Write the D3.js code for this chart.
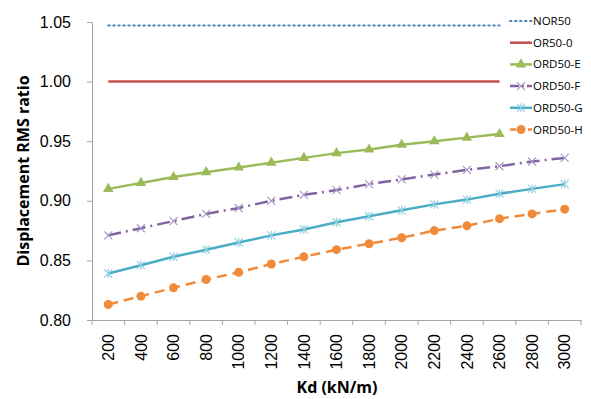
<!DOCTYPE html>
<html>
<head>
<meta charset="utf-8">
<script src="https://cdn.jsdelivr.net/npm/d3@7"></script>
<style>
	body { margin: 0; background: #fff; }
	svg { font-family: 'Open Sans', sans-serif; }
	.axis path, .axis line { stroke: #a6a6a6; }
</style>
</head>
<body>
<svg id="chart" width="591" height="399"></svg>
<script>
// Categories (Kd, kN/m)
var kd = [200, 400, 600, 800, 1000, 1200, 1400, 1600, 1800, 2000, 2200, 2400, 2600, 2800, 3000];

// Y tick labels
var yTicks = [0.80, 0.85, 0.90, 0.95, 1.00, 1.05];

// Series values
var nor50  = [1.047, 1.047, 1.047, 1.047, 1.047, 1.047, 1.047, 1.047, 1.047, 1.047, 1.047, 1.047, 1.047];
var or50   = [1.000, 1.000, 1.000, 1.000, 1.000, 1.000, 1.000, 1.000, 1.000, 1.000, 1.000, 1.000, 1.000];
var ord50E = [0.910, 0.915, 0.920, 0.924, 0.928, 0.932, 0.936, 0.940, 0.943, 0.947, 0.950, 0.953, 0.956];
var ord50F = [0.871, 0.877, 0.883, 0.889, 0.894, 0.900, 0.905, 0.909, 0.914, 0.918, 0.922, 0.926, 0.929, 0.933, 0.936];
var ord50G = [0.839, 0.846, 0.853, 0.859, 0.865, 0.871, 0.876, 0.882, 0.887, 0.892, 0.897, 0.901, 0.906, 0.910, 0.914];
var ord50H = [0.813, 0.820, 0.827, 0.834, 0.840, 0.847, 0.853, 0.859, 0.864, 0.869, 0.875, 0.879, 0.885, 0.889, 0.893];

var series = [
	{ name: "NOR50",   values: nor50,  color: "#4f81bd", dash: "1.5,3.5", cap: "round", marker: null },
	{ name: "OR50-0",  values: or50,   color: "#c0504d", dash: null, cap: "butt", marker: null },
	{ name: "ORD50-E", values: ord50E, color: "#9bbb59", dash: null, cap: "butt", marker: "triangle" },
	{ name: "ORD50-F", values: ord50F, color: "#8064a2", dash: "13,5,2,5", cap: "butt", marker: "x" },
	{ name: "ORD50-G", values: ord50G, color: "#4bacc6", dash: null, cap: "butt", marker: "star" },
	{ name: "ORD50-H", values: ord50H, color: "#f08b3c", dash: "10,6", cap: "butt", marker: "circle" }
];

var svg = d3.select("#chart");
var margin = { top: 22, right: 10, bottom: 79, left: 92 };
var width = 581 - margin.left;
var height = 320 - margin.top;

var g = svg.append("g").attr("transform", "translate(" + margin.left + "," + margin.top + ")");

var x = d3.scaleBand().domain(kd).range([0, width]).padding(0);
var y = d3.scaleLinear().domain([0.80, 1.05]).range([height, 0]);
var cx = function(i) { return x(kd[i]) + x.bandwidth() / 2; };

// Y Axis
g.append("g")
	.attr("class", "axis axis--y")
	.call(d3.axisLeft(y).tickValues(yTicks).tickFormat(d3.format(".2f")).tickSize(5).tickSizeOuter(0).tickPadding(16))
	.selectAll("text")
		.style("font-size", "16px")
		.attr("fill", "#000");

// X Axis
var gx = g.append("g")
	.attr("class", "axis axis--x")
	.attr("transform", "translate(0," + height + ")")
	.call(d3.axisBottom(x).tickSize(0).tickSizeOuter(0));
gx.selectAll("text")
	.style("font-size", "16px")
	.attr("fill", "#000")
	.attr("x", 0).attr("y", 0)
	.attr("dy", "0.35em")
	.style("text-anchor", "end")
	.attr("transform", "translate(0,14) rotate(-90)");
gx.selectAll(".bound")
	.data(kd.map(function(d) { return x(d); }).concat([width]))
	.enter().append("line")
		.attr("class", "bound")
		.attr("x1", function(d) { return d; })
		.attr("x2", function(d) { return d; })
		.attr("y1", 0).attr("y2", 5)
		.attr("stroke", "#a6a6a6");

// Axis titles
svg.append("text")
	.attr("x", 337).attr("y", 393)
	.attr("text-anchor", "middle")
	.style("font-size", "16px").style("font-weight", "bold")
	.text("Kd (kN/m)");
svg.append("text")
	.attr("transform", "translate(29,171) rotate(-90)")
	.attr("text-anchor", "middle")
	.style("font-size", "16px").style("font-weight", "bold")
	.text("Displacement RMS ratio");

// Markers
function drawMarker(sel, type, color) {
	if (type === "triangle") {
		sel.append("path").attr("d", d3.symbol().type(d3.symbolTriangle).size(48)).attr("fill", color);
	} else if (type === "circle") {
		sel.append("circle").attr("r", 4.5).attr("fill", color);
	} else if (type === "x") {
		sel.append("path").attr("d", "M-4,-4L4,4M-4,4L4,-4").attr("stroke", "#a898c4").attr("stroke-width", 1.2).attr("fill", "none");
	} else if (type === "star") {
		sel.append("path").attr("d", "M-4,-4L4,4M-4,4L4,-4M0,-4.5L0,4.5").attr("stroke", "#8fd0e0").attr("stroke-width", 1.2).attr("fill", "none");
	}
}

var line = d3.line()
	.x(function(d, i) { return cx(i); })
	.y(function(d) { return y(d); });

series.forEach(function(s) {
	g.append("path")
		.datum(s.values)
		.attr("fill", "none")
		.attr("stroke", s.color)
		.attr("stroke-width", s.name === "NOR50" ? 2 : 2.5)
		.attr("stroke-linecap", s.cap)
		.attr("stroke-dasharray", s.dash)
		.attr("d", line);
	if (s.marker) {
		g.selectAll(null)
			.data(s.values)
			.enter().append("g")
				.attr("transform", function(d, i) { return "translate(" + cx(i) + "," + y(d) + ")"; })
				.each(function() { drawMarker(d3.select(this), s.marker, s.color); });
	}
});

// Legend
var legend = svg.selectAll(".legend")
	.data(series)
	.enter().append("g")
		.attr("class", "legend")
		.attr("transform", function(d, i) { return "translate(510," + (21 + i * 21.7) + ")"; });

legend.append("line")
	.attr("x1", 0).attr("x2", 22).attr("y1", 0).attr("y2", 0)
	.attr("stroke", function(d) { return d.color; })
	.attr("stroke-width", function(d) { return d.name === "NOR50" ? 2 : 2.5; })
	.attr("stroke-linecap", function(d) { return d.cap; })
	.attr("stroke-dasharray", function(d) { return d.name === "ORD50-F" ? "9,3,2,3" : (d.name === "ORD50-H" ? "6,3" : d.dash); });

legend.each(function(d) {
	if (d.marker) {
		drawMarker(d3.select(this).append("g").attr("transform", "translate(11,0)"), d.marker, d.color);
	}
});

legend.append("text")
	.attr("x", 23)
	.attr("dy", "0.35em")
	.style("font-size", "11.5px")
	.text(function(d) { return d.name; });
</script>
</body>
</html>
